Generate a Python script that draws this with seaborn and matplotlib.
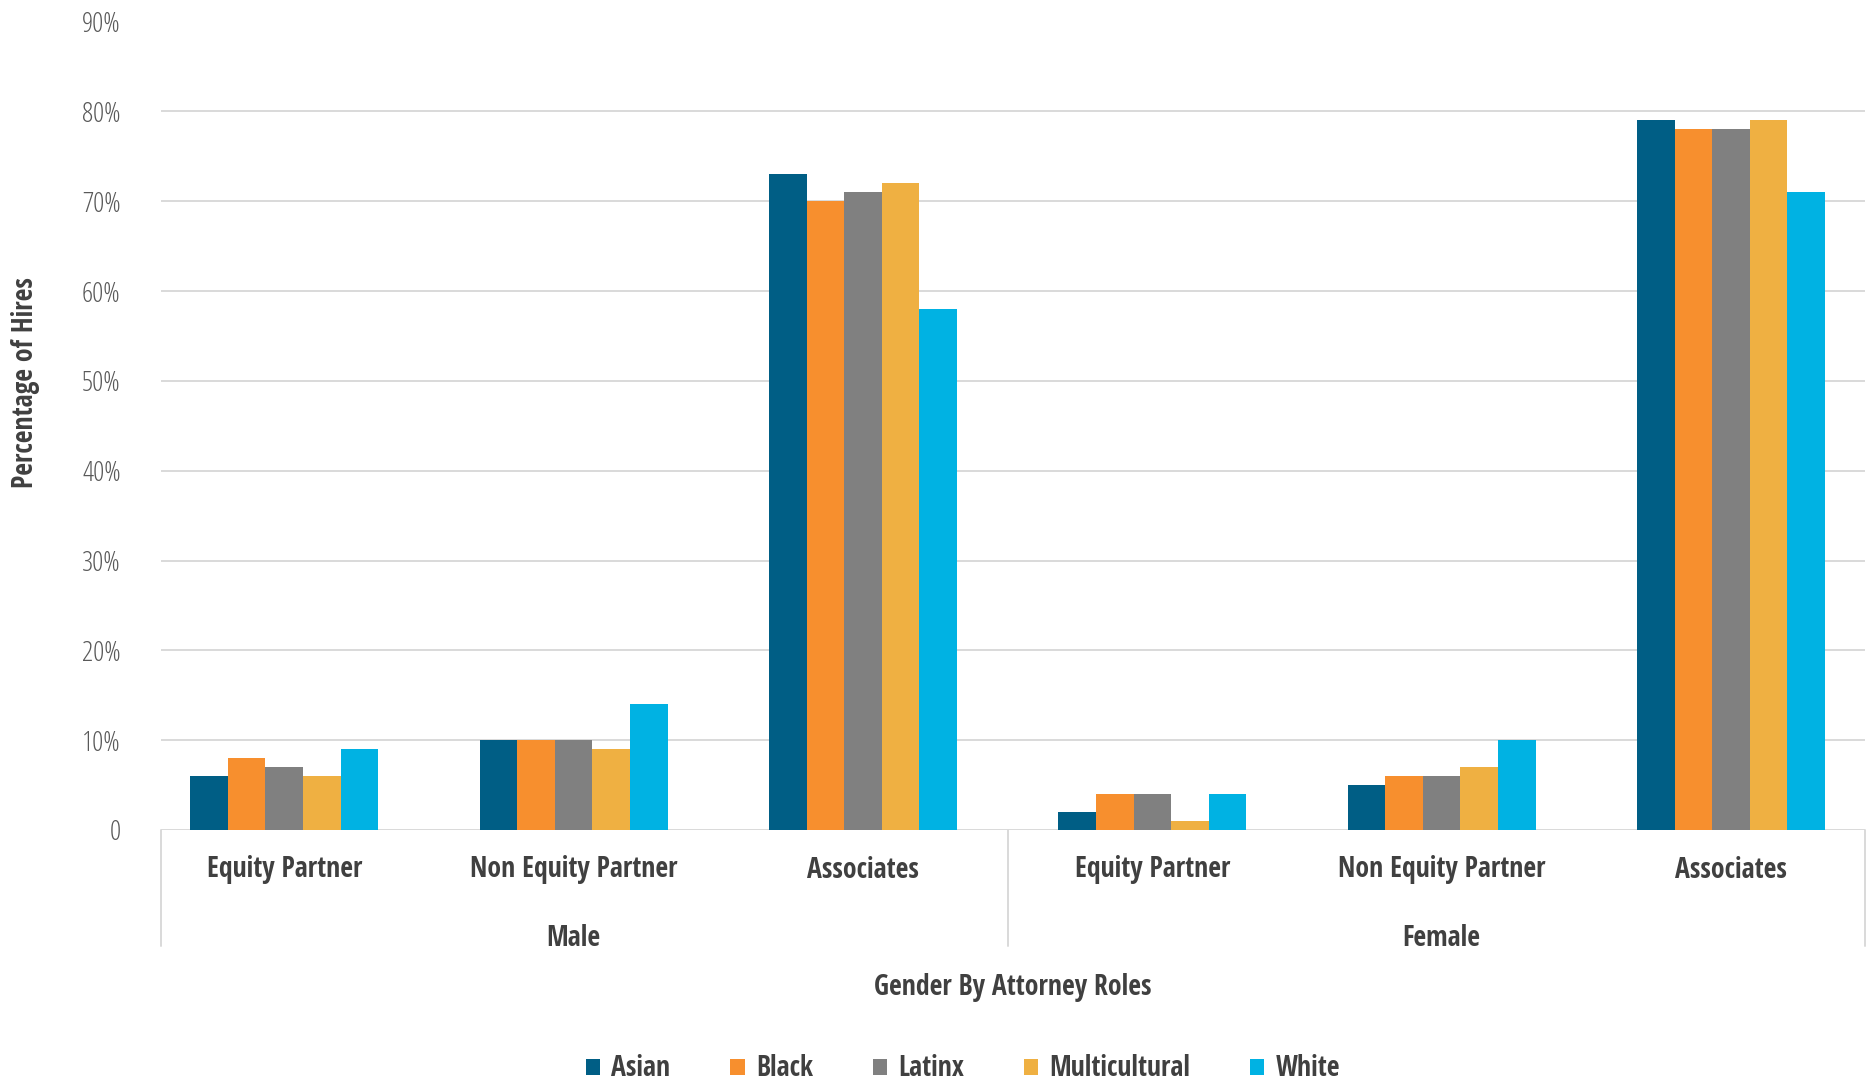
import matplotlib
matplotlib.use("Agg")
import matplotlib.pyplot as plt
from matplotlib.patches import Patch
from matplotlib.font_manager import FontProperties
import matplotlib.transforms as mtransforms
import seaborn as sns
import pandas as pd

# Data
genders = ["Male", "Female"]
roles = ["Equity Partner", "Non Equity Partner", "Associates"]
groups = ["Asian", "Black", "Latinx", "Multicultural", "White"]

asian = [6, 10, 73, 2, 5, 79]
black = [8, 10, 70, 4, 6, 78]
latinx = [7, 10, 71, 4, 6, 78]
multicultural = [6, 9, 72, 1, 7, 79]
white = [9, 14, 58, 4, 10, 71]

y_ticks = [0, 10, 20, 30, 40, 50, 60, 70, 80, 90]
y_tick_labels = ["0", "10%", "20%", "30%", "40%", "50%", "60%", "70%", "80%", "90%"]

colors = ["#005E85", "#F78F2E", "#808080", "#EFB042", "#00B2E3"]

# Long-form table: one row per (gender, role, group)
keys = [f"{g}|{r}" for g in genders for r in roles]
series = {"Asian": asian, "Black": black, "Latinx": latinx,
          "Multicultural": multicultural, "White": white}
rows = []
for grp in groups:
    for k, v in zip(keys, series[grp]):
        rows.append({"key": k, "group": grp, "value": v})
df = pd.DataFrame(rows)

sns.set_theme(style="white")
plt.rcParams["font.family"] = ["Open Sans Condensed", "DejaVu Sans"]

bold = FontProperties(family=["Open Sans Condensed", "DejaVu Sans"], weight=700, size=20)
light = FontProperties(family=["Open Sans", "DejaVu Sans"], stretch="condensed", weight=300, size=20)
legend_font = FontProperties(family=["Open Sans Condensed", "DejaVu Sans"], weight=700, size=20)

fig = plt.figure(figsize=(18.75, 10.84), dpi=100)
ax = fig.add_axes([161 / 1875, 1 - 830 / 1084, (1865 - 161) / 1875, (830 - 21.5) / 1084])

sns.barplot(data=df, x="key", y="value", hue="group", order=keys,
            hue_order=groups, palette=colors, width=0.65, saturation=1,
            edgecolor="none", linewidth=0, legend=False, ax=ax)

ax.set_ylim(0, 90)
ax.set_xlim(-0.426, 5.463)
ax.set_yticks(y_ticks)
ax.set_yticklabels(y_tick_labels, color="#595959")
for lbl in ax.get_yticklabels():
    lbl.set_fontproperties(light)
ax.tick_params(axis="y", length=0, pad=29)
ax.set_xticks([])
ax.set_xlabel("")
ax.set_ylabel("")
for s in ax.spines.values():
    s.set_visible(False)
ax.yaxis.grid(True, color="#D9D9D9", linewidth=1.4)
ax.set_axisbelow(True)

# Category separators below the axis
trans = mtransforms.blended_transform_factory(ax.transData, ax.transAxes)
sep_bottom = (830 - 946) / 808.5
for xs in [-0.426, 2.5, 5.463]:
    ax.plot([xs, xs], [0, sep_bottom], transform=trans, color="#D9D9D9",
            linewidth=1.4, clip_on=False)

# Role labels and gender labels
label_color = "#404040"
for i, k in enumerate(keys):
    ax.text(i, (830 - 870) / 808.5, k.split("|")[1], transform=trans,
            ha="center", va="center", fontproperties=bold, color=label_color)
for j, g in enumerate(genders):
    ax.text(1 + 3 * j, (830 - 938) / 808.5, g, transform=trans,
            ha="center", va="center", fontproperties=bold, color=label_color)

fig.text((161 + 1865) / 2 / 1875, 1 - 988 / 1084, "Gender By Attorney Roles",
         ha="center", va="center", fontproperties=bold, color=label_color)
fig.text(26 / 1875, 1 - 383 / 1084, "Percentage of Hires", rotation=90,
         ha="center", va="center", fontproperties=bold, color=label_color)

handles = [Patch(facecolor=c, edgecolor="none") for c in colors]
leg = fig.legend(handles, groups, loc="center", bbox_to_anchor=(963 / 1875, 1 - 1069 / 1084),
                 ncol=5, frameon=False, handlelength=0.52, handleheight=0.52,
                 columnspacing=2.15, handletextpad=0.4, prop=legend_font)
for t in leg.get_texts():
    t.set_color(label_color)

fig.savefig("out.png", dpi=100, facecolor="white")
